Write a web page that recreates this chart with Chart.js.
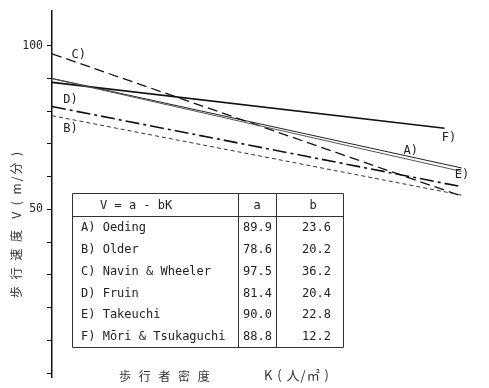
<!DOCTYPE html>
<html>
<head>
<meta charset="utf-8">
<script src="https://cdn.jsdelivr.net/npm/chart.js@4.4.0/dist/chart.umd.min.js"></script>
<style>
  html, body { margin: 0; padding: 0; background: #fff; overflow: hidden; }
  #wrap { position: relative; width: 489px; height: 388px; }
</style>
</head>
<body>
<div id="wrap"><canvas id="c" width="489" height="388"></canvas></div>
<script>
// Speed–density models  V = a - bK
const models      = ['A) Oeding', 'B) Older', 'C) Navin & Wheeler', 'D) Fruin', 'E) Takeuchi', 'F) Mōri & Tsukaguchi'];
const tags        = ['A)', 'B)', 'C)', 'D)', 'E)', 'F)'];
const interceptA  = [89.9, 78.6, 97.5, 81.4, 90.0, 88.8];
const slopeB      = [23.6, 20.2, 36.2, 20.4, 22.8, 12.2];
const densityEnd  = [1.2, 1.2, 1.2, 1.2, 1.2, 1.15];
const speedTicks  = [0, 10, 20, 30, 40, 50, 60, 70, 80, 90, 100];
const labeledTicks = [50, 100];
const yTitle = '歩 行 速 度  V ( m/分 )';
const xTitleA = '歩 行 者 密 度';
const xTitleB = 'K ( 人/㎡ )';

// line styles per model
const lineColors = ['#555', '#333', '#111', '#111', '#222', '#111'];
const lineWidths = [1, 1, 1.3, 1.6, 1, 1.7];
const lineDashes = [[], [4, 3], [10, 5], [14, 4, 3, 4], [], []];

// tag anchor points in data space (K, V)
const tagSpots = [[1.051, 68.0], [0.054, 74.5], [0.078, 97.1], [0.054, 83.3], [1.201, 60.4], [1.163, 71.8]];

const MONO = '"DejaVu Sans Mono", "Liberation Mono", monospace';
const CJK = '"Noto Sans CJK JP", "Noto Sans", sans-serif';

const datasets = models.map((m, i) => ({
  label: m,
  data: [
    { x: 0, y: interceptA[i] },
    { x: densityEnd[i], y: interceptA[i] - slopeB[i] * densityEnd[i] }
  ],
  showLine: true,
  borderColor: lineColors[i],
  borderWidth: lineWidths[i],
  borderDash: lineDashes[i],
  pointRadius: 0,
  fill: false,
  tension: 0
}));

const overlay = {
  id: 'overlay',
  afterDatasetsDraw(chart) {
    const { ctx, scales: { x, y } } = chart;
    ctx.save();

    // curve tags
    ctx.fillStyle = '#222';
    ctx.font = '12px ' + MONO;
    ctx.textAlign = 'center';
    ctx.textBaseline = 'middle';
    tagSpots.forEach((p, i) => {
      ctx.fillText(tags[i], x.getPixelForValue(p[0]), y.getPixelForValue(p[1]));
    });

    // coefficient table
    const L = 72, R = 343, T = 193, B = 347, H = 216;
    const c1 = 238, c2 = 276;
    const rowH = (B - H) / models.length;
    ctx.fillStyle = '#fff';
    ctx.fillRect(L, T, R - L, B - T);
    ctx.strokeStyle = '#333';
    ctx.lineWidth = 1;
    ctx.beginPath();
    ctx.rect(L + 0.5, T + 0.5, R - L, B - T);
    ctx.moveTo(L, H + 0.5); ctx.lineTo(R, H + 0.5);
    ctx.moveTo(c1 + 0.5, T); ctx.lineTo(c1 + 0.5, B);
    ctx.moveTo(c2 + 0.5, T); ctx.lineTo(c2 + 0.5, B);
    ctx.stroke();

    ctx.fillStyle = '#222';
    ctx.font = '12px ' + MONO;
    ctx.textBaseline = 'middle';
    ctx.textAlign = 'left';
    ctx.fillText('V = a - bK', 100, (T + H) / 2 + 1);
    ctx.textAlign = 'center';
    ctx.fillText('a', (c1 + c2) / 2, (T + H) / 2 + 1);
    ctx.fillText('b', 313, (T + H) / 2 + 1);
    models.forEach((m, i) => {
      const cy = H + rowH * (i + 0.5) + 1;
      ctx.textAlign = 'left';
      ctx.fillText(m, 81, cy);
      ctx.fillText(interceptA[i].toFixed(1), 243, cy);
      ctx.fillText(slopeB[i].toFixed(1), 302, cy);
    });

    // axis titles
    ctx.fillStyle = '#333';
    ctx.font = '12px ' + CJK;
    ctx.textBaseline = 'middle';
    if ('letterSpacing' in ctx) ctx.letterSpacing = '2px';
    ctx.save();
    ctx.translate(16, 224);
    ctx.rotate(-Math.PI / 2);
    ctx.textAlign = 'center';
    ctx.fillText(yTitle, 0, 0);
    ctx.restore();

    ctx.textAlign = 'left';
    if ('letterSpacing' in ctx) ctx.letterSpacing = '2.5px';
    ctx.fillText(xTitleA, 119, 376);
    if ('letterSpacing' in ctx) ctx.letterSpacing = '1px';
    ctx.font = '13px ' + CJK;
    ctx.fillText(xTitleB, 264, 375);

    ctx.restore();
  }
};

new Chart(document.getElementById('c'), {
  type: 'scatter',
  data: { datasets },
  options: {
    responsive: false,
    animation: false,
    events: [],
    layout: { padding: { top: 7, right: 0, bottom: 0, left: 0 } },
    plugins: { legend: { display: false }, tooltip: { enabled: false } },
    scales: {
      x: { type: 'linear', min: 0, max: 1.28, display: false },
      y: {
        type: 'linear',
        min: -1.2,
        max: 110.6,
        position: 'left',
        border: { display: true, color: '#111', width: 1.5 },
        grid: { drawOnChartArea: false, drawTicks: true, tickLength: 5, color: '#111', lineWidth: 1 },
        ticks: {
          padding: 4,
          color: '#222',
          font: { family: MONO, size: 11.5 },
          callback: v => labeledTicks.includes(v) ? String(v) : ''
        },
        afterBuildTicks: s => { s.ticks = speedTicks.map(v => ({ value: v })); },
        afterFit: s => { s.width = 52; }
      }
    }
  },
  plugins: [overlay]
});
</script>
</body>
</html>
